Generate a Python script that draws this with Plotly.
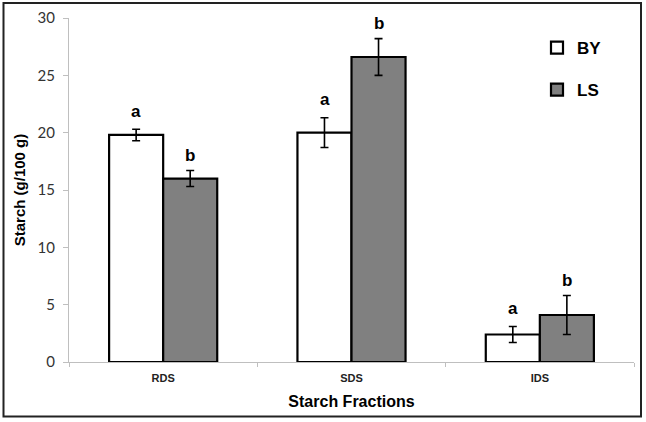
import plotly.graph_objects as go

categories = ["RDS", "SDS", "IDS"]
by_values = [19.8, 20.0, 2.4]
by_errors = [0.5, 1.3, 0.7]
ls_values = [16.0, 26.6, 4.1]
ls_errors = [0.7, 1.6, 1.7]
by_letters = ["a", "a", "a"]
ls_letters = ["b", "b", "b"]

W, H = 646, 422
ml, mr, mt, mb = 69, 12, 18, 60
pw, ph = W - ml - mr, H - mt - mb

fig = go.Figure()
fig.add_trace(go.Bar(
    name="<b>BY</b>", x=categories, y=by_values, legendgroup="BY",
    marker=dict(color="white", line=dict(color="black", width=2.2)),
    error_y=dict(type="data", array=by_errors, color="black", thickness=1.6, width=4),
))
fig.add_trace(go.Bar(
    name="<b>LS</b>", x=categories, y=ls_values, legendgroup="LS",
    marker=dict(color="#808080", line=dict(color="black", width=2.2)),
    error_y=dict(type="data", array=ls_errors, color="black", thickness=1.6, width=4),
))

annotations = []
for cat, v, e, t in zip(categories, by_values, by_errors, by_letters):
    annotations.append(dict(x=cat, y=v + e, text="<b>%s</b>" % t, xshift=-27, yshift=18,
                            showarrow=False,
                            font=dict(family="Liberation Sans", size=17, color="black"),
                            xref="x", yref="y"))
for cat, v, e, t in zip(categories, ls_values, ls_errors, ls_letters):
    annotations.append(dict(x=cat, y=v + e, text="<b>%s</b>" % t, xshift=27, yshift=15,
                            showarrow=False,
                            font=dict(family="Liberation Sans", size=17, color="black"),
                            xref="x", yref="y"))


def px_x(p):
    return (p - ml) / pw


def px_y(p):
    return 1 - (p - mt) / ph


fig.update_layout(
    width=W, height=H,
    margin=dict(l=ml, r=mr, t=mt, b=mb, autoexpand=False),
    paper_bgcolor="white", plot_bgcolor="white",
    barmode="group", bargap=0.426, bargroupgap=0,
    showlegend=True,
    legend=dict(x=px_x(537), y=px_y(30), xanchor="left", yanchor="top",
                font=dict(family="Liberation Sans", size=17, color="black"),
                traceorder="grouped", tracegroupgap=17, bgcolor="rgba(0,0,0,0)",
                itemwidth=30),
    annotations=annotations,
    shapes=[dict(type="rect", xref="paper", yref="paper",
                 x0=px_x(3.5), x1=px_x(641), y0=px_y(416.5), y1=px_y(3),
                 line=dict(color="#222222", width=2))],
    xaxis=dict(
        automargin=False,
        showline=True, linecolor="#bfbfbf", linewidth=1,
        ticks="outside", tickson="boundaries", ticklen=4, tickcolor="#bfbfbf",
        ticklabelstandoff=6,
        tickfont=dict(family="Liberation Sans", size=11, color="#222222"),
        tickvals=categories, ticktext=["<b>%s</b>" % c for c in categories],
        title=dict(text="<b>Starch Fractions</b>", standoff=12,
                   font=dict(family="Liberation Sans", size=16, color="black")),
        showgrid=False,
    ),
    yaxis=dict(
        automargin=False,
        range=[0, 30], dtick=5,
        showline=True, linecolor="#bfbfbf", linewidth=1,
        ticks="outside", ticklen=5, tickcolor="#bfbfbf",
        ticklabelstandoff=5,
        tickfont=dict(family="Lato", size=15, color="#333333"),
        title=dict(text="<b>Starch (g/100 g)</b>", standoff=8,
                   font=dict(family="Liberation Sans", size=15, color="black")),
        showgrid=False, zeroline=False,
    ),
)

fig.write_html("out.html", config={"displayModeBar": False},
               post_script="document.body.style.margin='0px';document.body.style.overflow='hidden';")
